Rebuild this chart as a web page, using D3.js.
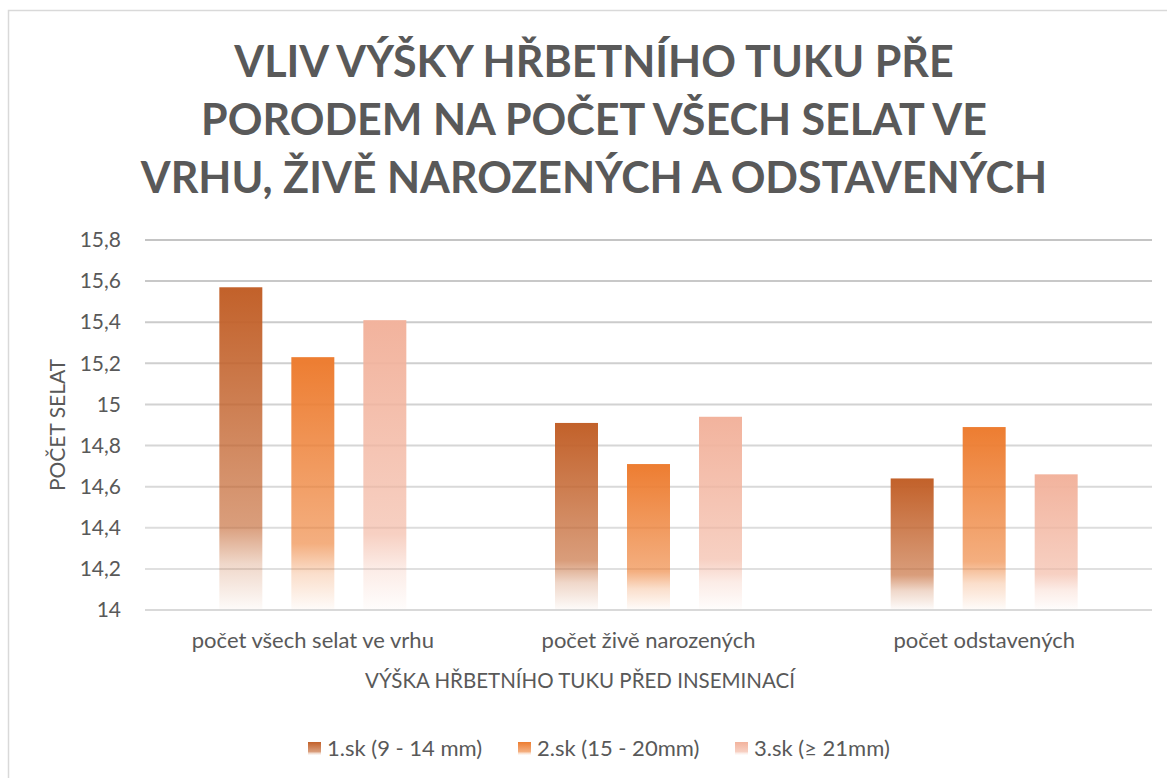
<!DOCTYPE html>
<html>
<head>
<meta charset="utf-8">
<script src="https://cdn.jsdelivr.net/npm/d3@7"></script>
<style>
  body { margin: 0; background: #fff; }
  text { font-family: Lato, "Open Sans", sans-serif; fill: #595959; }
</style>
</head>
<body>
<div id="chart"></div>
<script>
// data
let categories = ['počet všech selat ve vrhu', 'počet živě narozených', 'počet odstavených'];
let seriesNames = ['1.sk (9 - 14 mm)', '2.sk (15 - 20mm)', '3.sk (≥ 21mm)'];
let sk1 = [15.57, 14.91, 14.64];
let sk2 = [15.23, 14.71, 14.89];
let sk3 = [15.41, 14.94, 14.66];
let yTicks = [14, 14.2, 14.4, 14.6, 14.8, 15, 15.2, 15.4, 15.6, 15.8];
let titleLines = ['VLIV VÝŠKY HŘBETNÍHO TUKU PŘE', 'PORODEM NA POČET VŠECH SELAT VE', 'VRHU, ŽIVĚ NAROZENÝCH A ODSTAVENÝCH'];

let seriesColors = ['#C2612A', '#ED7D31', '#F2B39D'];

let svgWidth = 1167;
let svgHeight = 778;

let plot = { left: 145, right: 1152, top: 240, bottom: 610 };

let svg = d3.select('#chart')
  .append('svg')
  .attr('width', svgWidth)
  .attr('height', svgHeight);

// outer chart border
svg.append('path')
  .attr('d', `M8.5,${svgHeight} V10.5 H${svgWidth}`)
  .attr('fill', 'none')
  .attr('stroke', '#D9D9D9')
  .attr('stroke-width', 1.5);

// gradients for bars
let defs = svg.append('defs');
seriesColors.forEach(function(c, i) {
  let g = defs.append('linearGradient')
    .attr('id', 'grad' + i)
    .attr('x1', 0).attr('y1', 0).attr('x2', 0).attr('y2', 1);
  g.append('stop').attr('offset', '0%').attr('stop-color', c).attr('stop-opacity', 1);
  g.append('stop').attr('offset', '74%').attr('stop-color', c).attr('stop-opacity', 0.62);
  g.append('stop').attr('offset', '86%').attr('stop-color', c).attr('stop-opacity', 0.25);
  g.append('stop').attr('offset', '100%').attr('stop-color', c).attr('stop-opacity', 0.03);
});

// title
svg.append('g').selectAll('text')
  .data(titleLines)
  .enter()
  .append('text')
  .attr('x', 594)
  .attr('y', (d, i) => 77 + i * 58)
  .attr('text-anchor', 'middle')
  .attr('font-size', '43px')
  .attr('font-weight', 'bold')
  .text(d => d);

// scales
let x0 = d3.scaleBand()
  .domain(categories)
  .range([plot.left, plot.right]);

let x1 = d3.scaleBand()
  .domain(seriesNames)
  .range([0, 187])
  .paddingInner(0.403);

let groupOffset = (x0.bandwidth() - 187) / 2;

let y = d3.scaleLinear()
  .domain([14, 15.8])
  .range([plot.bottom, plot.top]);

let gridColor = d3.scaleLinear()
  .domain([15.8, 14])
  .range(['#C4C4C4', '#E4E4E4']);

// gridlines
svg.append('g')
  .selectAll('line')
  .data(yTicks)
  .enter()
  .append('line')
  .attr('x1', plot.left)
  .attr('x2', plot.right)
  .attr('y1', d => y(d))
  .attr('y2', d => y(d))
  .attr('stroke', d => d === 14 ? '#D9D9D9' : gridColor(d))
  .attr('stroke-width', 2);

let leftAxis = d3.axisLeft(y)
  .tickValues(yTicks)
  .tickSize(0)
  .tickPadding(0)
  .tickFormat(d => String(d).replace('.', ','));

let yAxis = svg.append('g')
  .attr('transform', `translate(121, 0)`)
  .call(leftAxis);
yAxis.select('.domain').remove();
yAxis.selectAll('text')
  .attr('font-size', '21px')
  .style('font-family', 'Lato, sans-serif')
  .attr('fill', '#595959');

// bars
let series = [sk1, sk2, sk3];
let rows = [];
categories.forEach(function(cat, ci) {
  seriesNames.forEach(function(s, si) {
    rows.push({ cat: cat, name: s, si: si, value: series[si][ci] });
  });
});

svg.append('g')
  .selectAll('rect')
  .data(rows)
  .enter()
  .append('rect')
  .attr('x', d => x0(d.cat) + groupOffset + x1(d.name))
  .attr('y', d => y(d.value))
  .attr('width', x1.bandwidth())
  .attr('height', d => y(14) - y(d.value) - 1)
  .attr('fill', d => `url(#grad${d.si})`);

// x labels
let bottomAxis = d3.axisBottom(x0).tickSize(0).tickPadding(0);
let xAxis = svg.append('g')
  .attr('transform', `translate(0, ${plot.bottom + 22})`)
  .call(bottomAxis);
xAxis.select('.domain').remove();
xAxis.selectAll('text')
  .attr('font-size', '22px')
  .style('font-family', 'Lato, sans-serif')
  .attr('fill', '#595959');

// axis titles
svg.append('text')
  .attr('x', 580)
  .attr('y', 688)
  .attr('text-anchor', 'middle')
  .attr('font-size', '20.5px')
  .text('VÝŠKA HŘBETNÍHO TUKU PŘED INSEMINACÍ');

svg.append('text')
  .attr('transform', 'translate(65, 425) rotate(-90)')
  .attr('text-anchor', 'middle')
  .attr('font-size', '21px')
  .text('POČET SELAT');

// legend
let legendX = [308, 518, 735];
let legend = svg.append('g')
  .selectAll('g')
  .data(seriesNames)
  .enter()
  .append('g')
  .attr('transform', (d, i) => `translate(${legendX[i]}, 748)`);

legend.append('rect')
  .attr('x', 0)
  .attr('y', -6)
  .attr('width', 13)
  .attr('height', 13)
  .attr('fill', (d, i) => `url(#grad${i})`);

legend.append('text')
  .attr('x', 19)
  .attr('y', 8)
  .attr('font-size', '22px')
  .text(d => d);
</script>
</body>
</html>
